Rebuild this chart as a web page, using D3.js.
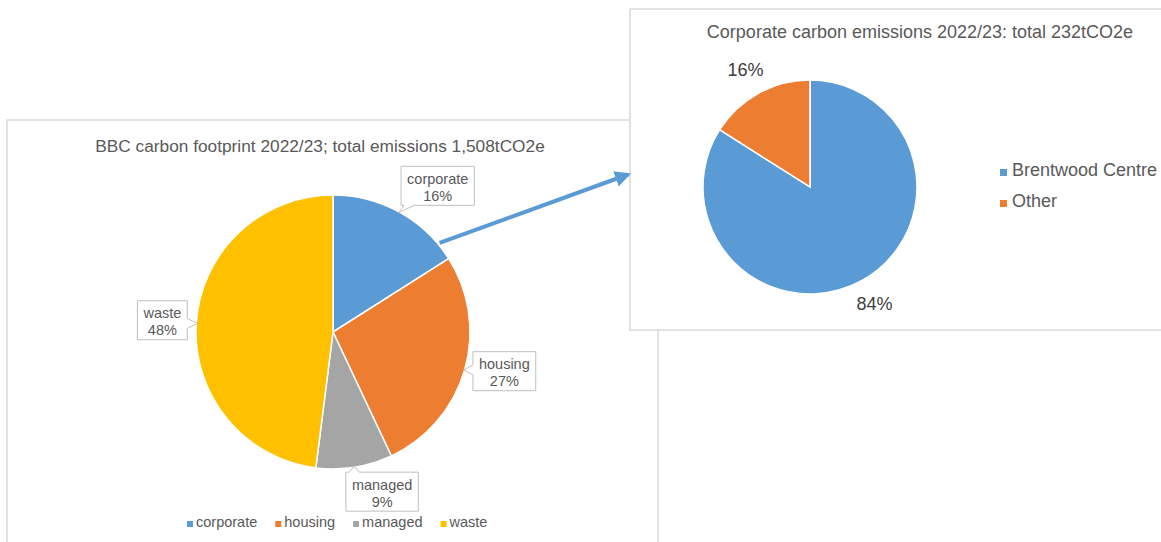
<!DOCTYPE html>
<meta charset="utf-8" />
<style type="text/css">
    body {
        margin: 0;
        background: #fff;
    }

    text {
        font-family: "Liberation Sans", Arial, sans-serif;
        fill: #595959;
    }

    .panel {
        fill: #fff;
        stroke: #d9d9d9;
        stroke-width: 1.5;
    }

    .slice {
        stroke: #fff;
        stroke-width: 1.5;
    }

    .callout {
        fill: #fff;
        stroke: #bfbfbf;
        stroke-width: 1;
    }
</style>

<body>
    <div id="chart"></div>
</body>
<script src="https://cdn.jsdelivr.net/npm/d3@7"></script>
<script>
    // left pie: whole footprint by area (%)
    const mainCats = ["corporate", "housing", "managed", "waste"];
    const mainShares = [16, 27, 9, 48];
    const mainColors = ["#5b9bd5", "#ed7d31", "#a5a5a5", "#ffc000"];

    // right pie: corporate split (%)
    const subCats = ["Brentwood Centre", "Other"];
    const subShares = [84, 16];
    const subColors = ["#5b9bd5", "#ed7d31"];

    const mainTitle = "BBC carbon footprint 2022/23; total emissions 1,508tCO2e";
    const subTitle = "Corporate carbon emissions 2022/23: total 232tCO2e";

    let width = 1161,
        height = 542;

    let svg = d3.select("#chart").append("svg")
        .attr("width", width)
        .attr("height", height);

    // panels (right one overlaps the left one)
    svg.append("rect").attr("class", "panel")
        .attr("x", 7).attr("y", 120).attr("width", 651).attr("height", 460);
    let leftG = svg.append("g");
    svg.append("rect").attr("class", "panel")
        .attr("x", 630).attr("y", 9).attr("width", 600).attr("height", 321);
    let rightG = svg.append("g");

    let pie = d3.pie().sort(null).value(function(d) {
        return d;
    });

    function polar(a, r) {
        return [Math.sin(a) * r, -Math.cos(a) * r];
    }

    // ---------- left chart ----------
    let c1 = { x: 333, y: 332 },
        r1 = 137;
    leftG.append("text")
        .attr("x", 320).attr("y", 152)
        .attr("text-anchor", "middle")
        .style("font-size", "17.3px")
        .text(mainTitle);

    let arcs1 = pie(mainShares);
    let arc1 = d3.arc().innerRadius(0).outerRadius(r1);
    let pieG1 = leftG.append("g").attr("transform", "translate(" + c1.x + "," + c1.y + ")");
    pieG1.selectAll(".slice")
        .data(arcs1)
        .enter().append("path")
        .attr("class", "slice")
        .attr("d", arc1)
        .attr("fill", function(d, i) {
            return mainColors[i];
        });

    // callout labels, placed around the slice mid angle
    let shiftDeg = [7, -3, -8, 0],
        labelR = [179, 176, 168, 171];
    arcs1.forEach(function(d, i) {
        let mid = (d.startAngle + d.endAngle) / 2;
        let p = polar(mid + shiftDeg[i] * Math.PI / 180, labelR[i]);
        let tip = polar(mid, r1 - 1);
        let g = pieG1.append("g");
        let t1 = g.append("text").attr("text-anchor", "middle")
            .style("font-size", "14.5px")
            .attr("x", p[0]).attr("y", p[1] - 3)
            .text(mainCats[i]);
        g.append("text").attr("text-anchor", "middle")
            .style("font-size", "14.5px")
            .attr("x", p[0]).attr("y", p[1] + 14)
            .text(d.data + "%");
        let w = t1.node().getComputedTextLength() + 12,
            h = 39;
        let x0 = p[0] - w / 2,
            y0 = p[1] - h / 2 - 1,
            x1 = x0 + w,
            y1 = y0 + h;
        // pick the side the pointer comes from
        let dx = tip[0] - p[0],
            dy = tip[1] - p[1];
        let pts;
        let b = 5;
        if (Math.abs(dx) / w > Math.abs(dy) / h) {
            let yy = Math.max(y0 + b + 3, Math.min(y1 - b - 3, tip[1]));
            if (dx > 0) {
                pts = [[x0, y0], [x1, y0], [x1, yy - b], tip, [x1, yy + b], [x1, y1], [x0, y1]];
            } else {
                pts = [[x0, y0], [x1, y0], [x1, y1], [x0, y1], [x0, yy + b], tip, [x0, yy - b]];
            }
        } else {
            let xx = Math.max(x0 + b + 3, Math.min(x1 - b - 3, tip[0]));
            if (dy > 0) {
                pts = [[x0, y0], [x1, y0], [x1, y1], [xx + b, y1], tip, [xx - b, y1], [x0, y1]];
            } else {
                pts = [[x0, y0], [xx - b, y0], tip, [xx + b, y0], [x1, y0], [x1, y1], [x0, y1]];
            }
        }
        g.insert("path", "text")
            .attr("class", "callout")
            .attr("d", d3.line()(pts) + "Z");
    });

    // legend left
    let leg1 = leftG.append("g").attr("transform", "translate(0,527)");
    let lx = 187;
    mainCats.forEach(function(name, i) {
        leg1.append("rect")
            .attr("x", lx).attr("y", -6)
            .attr("width", 6).attr("height", 6)
            .attr("fill", mainColors[i]);
        let t = leg1.append("text")
            .attr("x", lx + 9).attr("y", 0)
            .style("font-size", "14.5px")
            .text(name);
        lx += 9 + t.node().getComputedTextLength() + 18;
    });

    // ---------- right chart ----------
    let c2 = { x: 810, y: 187 },
        r2 = 107;
    rightG.append("text")
        .attr("x", 920).attr("y", 38)
        .attr("text-anchor", "middle")
        .style("font-size", "18px")
        .text(subTitle);

    let arcs2 = pie(subShares);
    let arc2 = d3.arc().innerRadius(0).outerRadius(r2);
    let pieG2 = rightG.append("g").attr("transform", "translate(" + c2.x + "," + c2.y + ")");
    pieG2.selectAll(".slice")
        .data(arcs2)
        .enter().append("path")
        .attr("class", "slice")
        .attr("d", arc2)
        .attr("fill", function(d, i) {
            return subColors[i];
        });

    let labelArc = d3.arc().innerRadius(134).outerRadius(134);
    pieG2.selectAll(".plabel")
        .data(arcs2)
        .enter().append("text")
        .attr("class", "plabel")
        .attr("transform", function(d) {
            let c = labelArc.centroid(d);
            return "translate(" + c[0] + "," + (c[1] + 6) + ")";
        })
        .attr("text-anchor", "middle")
        .style("font-size", "18px")
        .style("fill", "#404040")
        .text(function(d) {
            return d.data + "%";
        });

    let leg2 = rightG.append("g").attr("transform", "translate(1000,176)");
    subCats.forEach(function(name, i) {
        leg2.append("rect")
            .attr("x", 0).attr("y", i * 31 - 7)
            .attr("width", 7).attr("height", 7)
            .attr("fill", subColors[i]);
        leg2.append("text")
            .attr("x", 12).attr("y", i * 31)
            .style("font-size", "18px")
            .text(name);
    });

    // arrow from the corporate slice to the detail panel
    let corp = arcs1[0];
    let a0 = corp.startAngle + (corp.endAngle - corp.startAngle) * 0.87;
    let s = polar(a0, r1 + 2);
    let start = [c1.x + s[0], c1.y + s[1]],
        end = [632, 173];
    let defs = svg.append("defs");
    defs.append("marker")
        .attr("id", "head")
        .attr("viewBox", "0 0 10 10")
        .attr("refX", 8).attr("refY", 5)
        .attr("markerWidth", 4).attr("markerHeight", 4)
        .attr("orient", "auto")
        .append("path")
        .attr("d", "M0,0L10,5L0,10Z")
        .attr("fill", "#5b9bd5");
    svg.append("line")
        .attr("x1", start[0]).attr("y1", start[1])
        .attr("x2", end[0] - 4).attr("y2", end[1] + 1.5)
        .attr("stroke", "#5b9bd5")
        .attr("stroke-width", 4)
        .attr("marker-end", "url(#head)");
</script>
